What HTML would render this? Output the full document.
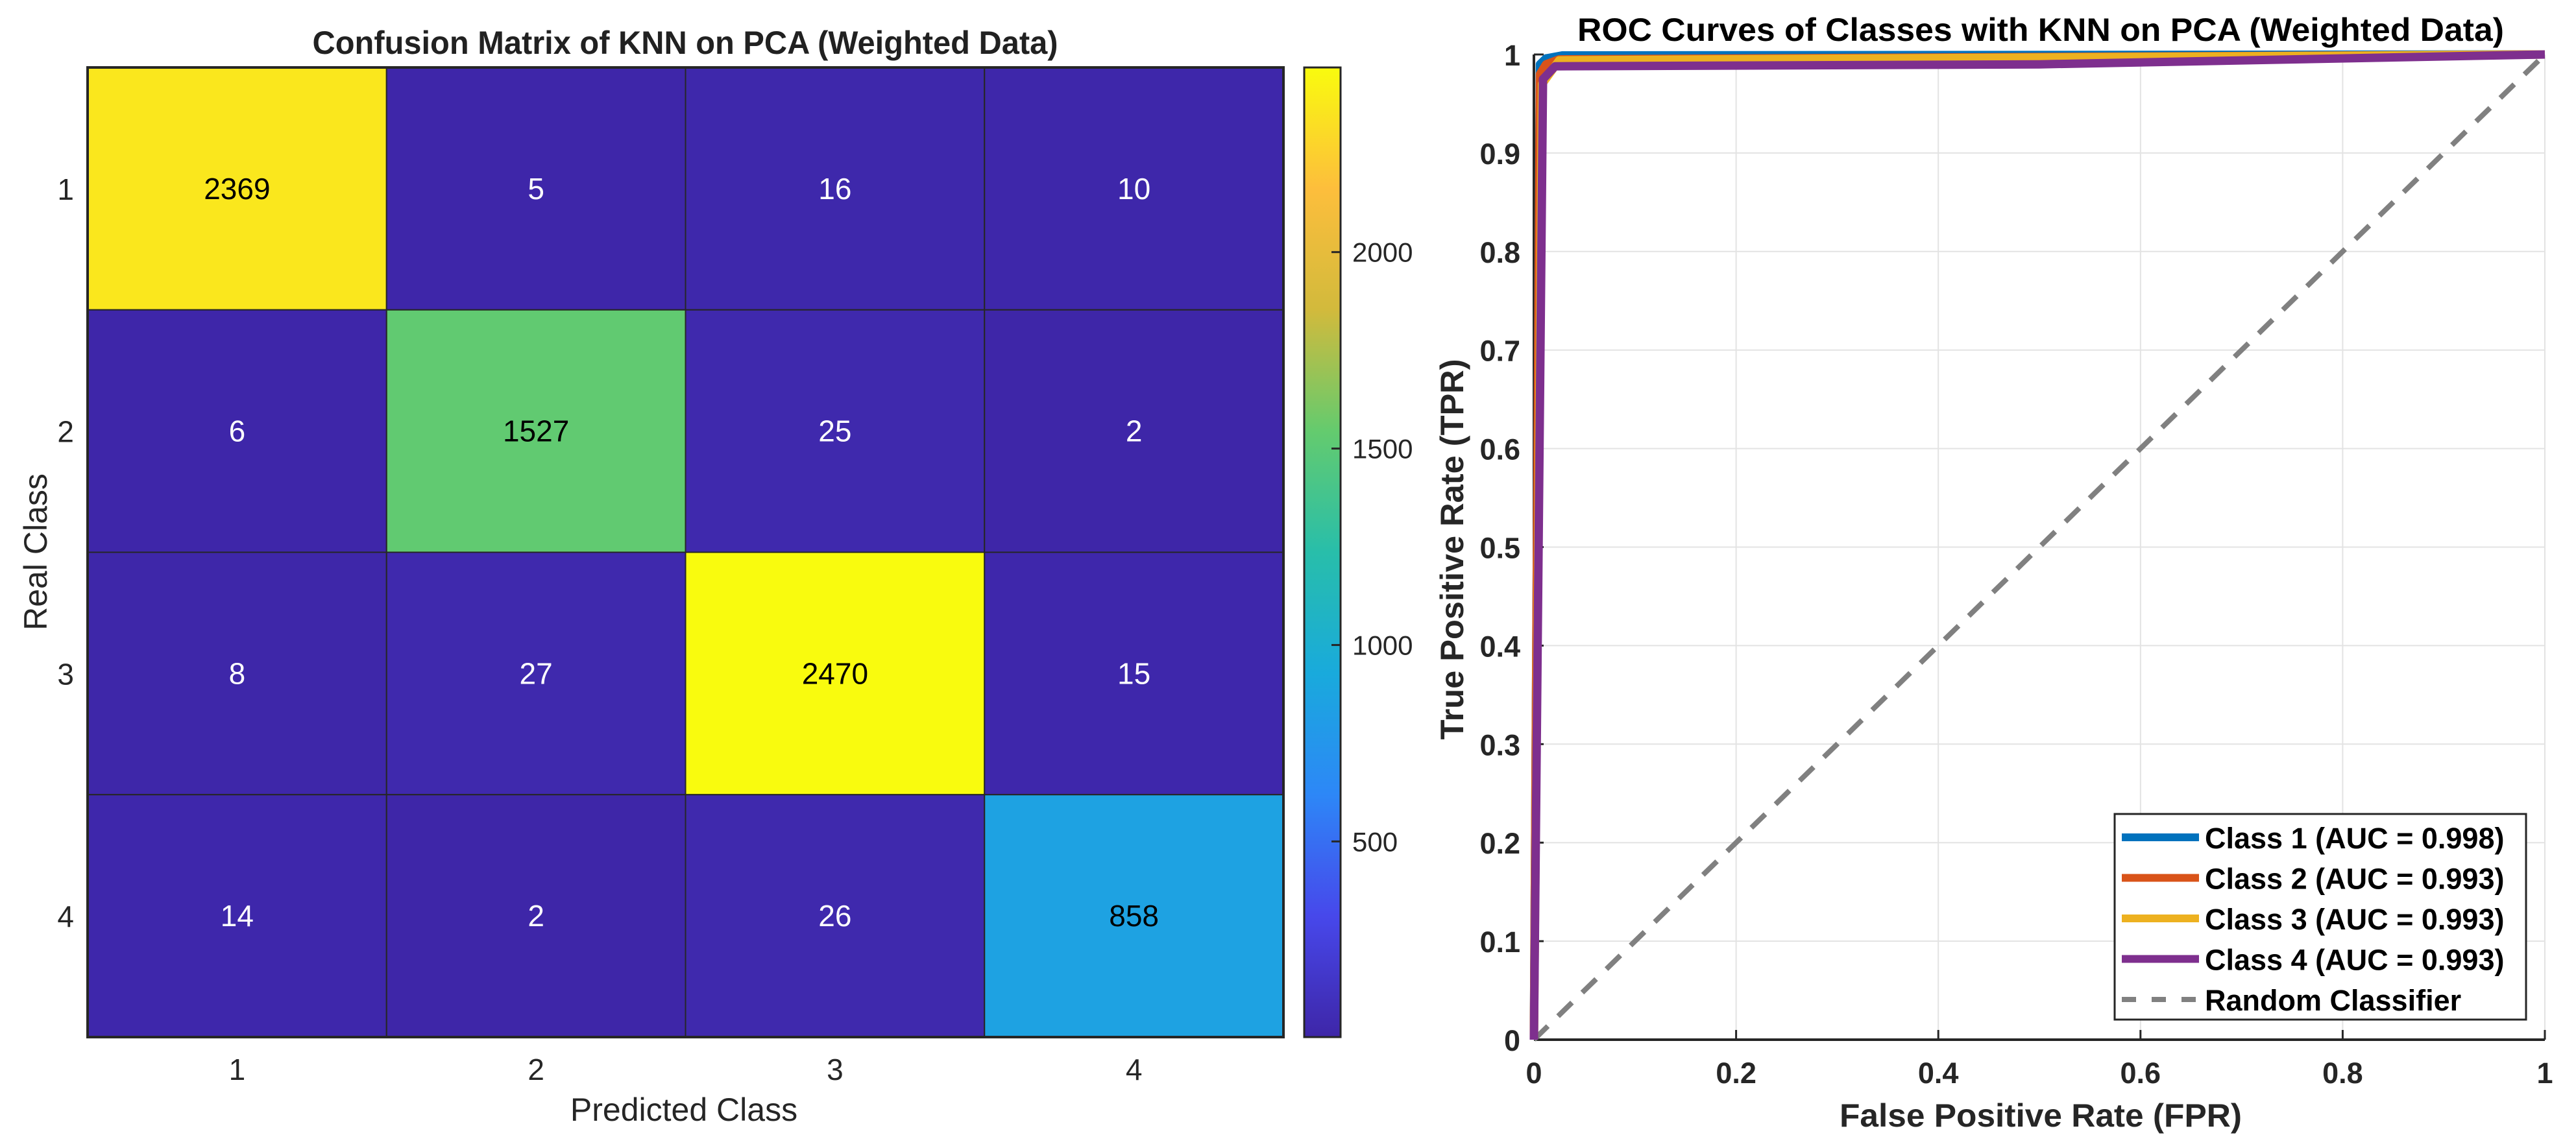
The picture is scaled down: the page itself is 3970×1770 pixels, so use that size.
<!DOCTYPE html>
<html><head><meta charset="utf-8">
<style>
html,body{margin:0;padding:0;background:#fff;}
svg{display:block;font-family:"Liberation Sans",Arial,sans-serif;}
</style></head>
<body>
<svg id="fig" width="3970" height="1770" viewBox="0 0 3970 1770" xmlns="http://www.w3.org/2000/svg">
<defs>
<linearGradient id="parulaGrad" x1="0" y1="1" x2="0" y2="0"></linearGradient>
</defs>
<g id="cm">
<text x="1056" y="83" text-anchor="middle" font-size="50" font-weight="bold" fill="#212121" textLength="1149" lengthAdjust="spacingAndGlyphs">Confusion Matrix of KNN on PCA (Weighted Data)</text>
<text x="1054" y="1728" text-anchor="middle" font-size="50" fill="#262626">Predicted Class</text>
<text transform="translate(72,851) rotate(-90)" text-anchor="middle" font-size="50" fill="#262626">Real Class</text>
</g>
<g id="roc">
<text x="3145" y="63" text-anchor="middle" font-size="50" font-weight="bold" fill="#000" textLength="1428" lengthAdjust="spacingAndGlyphs">ROC Curves of Classes with KNN on PCA (Weighted Data)</text>
<text x="3145" y="1737" text-anchor="middle" font-size="50" font-weight="bold" fill="#262626" textLength="620" lengthAdjust="spacingAndGlyphs">False Positive Rate (FPR)</text>
<text transform="translate(2255,847) rotate(-90)" text-anchor="middle" font-size="50" font-weight="bold" fill="#262626" textLength="587" lengthAdjust="spacingAndGlyphs">True Positive Rate (TPR)</text>
</g>
</svg>
<script>
// ---------- Confusion matrix data ----------
const classLabels = ["1","2","3","4"];
const row1 = [2369, 5, 16, 10];
const row2 = [6, 1527, 25, 2];
const row3 = [8, 27, 2470, 15];
const row4 = [14, 2, 26, 858];
const colorbarTicks = [500, 1000, 1500, 2000];
const cMin = 2, cMax = 2470;

// ---------- ROC data ----------
const rocXTicks = [0, 0.2, 0.4, 0.6, 0.8, 1];
const rocYTicks = [0, 0.1, 0.2, 0.3, 0.4, 0.5, 0.6, 0.7, 0.8, 0.9, 1];
const class1Fpr = [0, 0.006, 0.012, 0.028, 1];
const class1Tpr = [0, 0.99, 0.996, 0.999, 1];
const class2Fpr = [0, 0.006, 0.012, 0.025, 1];
const class2Tpr = [0, 0.98, 0.99, 0.995, 1];
const class3Fpr = [0, 0.008, 0.015, 0.025, 1];
const class3Tpr = [0, 0.97, 0.98, 0.994, 1];
const class4Fpr = [0, 0.009, 0.021, 0.5, 1];
const class4Tpr = [0, 0.975, 0.988, 0.99, 1];
const legendLabels = ["Class 1 (AUC = 0.998)","Class 2 (AUC = 0.993)","Class 3 (AUC = 0.993)","Class 4 (AUC = 0.993)","Random Classifier"];

const NS = "http://www.w3.org/2000/svg";
function mk(tag, attrs, parent){
  const e = document.createElementNS(NS, tag);
  for (const k in attrs) e.setAttribute(k, attrs[k]);
  parent.appendChild(e);
  return e;
}
// parula colormap
const par = [[62,38,168],[71,72,235],[45,135,247],[25,170,220],[40,190,170],[100,203,110],[210,186,60],[253,190,60],[249,251,14]];
function parula(t){
  t = Math.max(0, Math.min(1, t));
  const p = t*(par.length-1), i = Math.min(par.length-2, Math.floor(p)), f = p-i;
  const c = par[i].map((v,j)=>Math.round(v+(par[i+1][j]-v)*f));
  return "rgb("+c.join(",")+")";
}
const grad = document.getElementById("parulaGrad");
par.forEach((c,i)=>{ mk("stop",{offset:(i/(par.length-1)),"stop-color":"rgb("+c.join(",")+")"},grad); });

// ---------- Confusion matrix ----------
const cm = document.getElementById("cm");
const hmL = 135, hmR = 1978, hmT = 104, hmB = 1599;
const rows = [row1,row2,row3,row4];
const cw = (hmR-hmL)/classLabels.length, ch = (hmB-hmT)/rows.length;
const xCell = i => hmL + i*cw;
const yCell = j => hmT + j*ch;
rows.forEach((r,j)=>{
  r.forEach((v,i)=>{
    const t = (v-cMin)/(cMax-cMin);
    const rect = mk("rect",{x:xCell(i),y:yCell(j),width:cw,height:ch,fill:parula(t),stroke:"#262626","stroke-width":2},cm);
    
    
    const tx = mk("text",{x:xCell(i)+cw/2,y:yCell(j)+ch/2+16,"text-anchor":"middle","font-size":46,fill:(t>0.3?"#000":"#fff")},cm);
    tx.textContent = v;
    
    
  });
});
const border = mk("rect",{x:hmL,y:hmT,width:hmR-hmL,height:hmB-hmT,fill:"none",stroke:"#262626","stroke-width":4},cm);


classLabels.forEach((lab,i)=>{
  const xt = mk("text",{x:xCell(i)+cw/2,y:1665,"text-anchor":"middle","font-size":46,fill:"#262626"},cm);
  xt.textContent = lab;
  
  
  const yt = mk("text",{x:114,y:yCell(i)+ch/2+17,"text-anchor":"end","font-size":46,fill:"#262626"},cm);
  yt.textContent = lab;
  
  
});
// colorbar
const cbL = 2010, cbR = 2066;
const cbY = v => hmB - (v-cMin)/(cMax-cMin)*(hmB-hmT);
const cb = mk("rect",{x:cbL,y:hmT,width:cbR-cbL,height:hmB-hmT,fill:"url(#parulaGrad)",stroke:"#262626","stroke-width":3},cm);


colorbarTicks.forEach(v=>{
  const tk = mk("line",{x1:cbR-14,x2:cbR,y1:cbY(v),y2:cbY(v),stroke:"#262626","stroke-width":3},cm);
  
  
  const tl = mk("text",{x:2084,y:cbY(v)+15,"font-size":42,fill:"#262626"},cm);
  tl.textContent = v;
  
  
});

// ---------- ROC ----------
const roc = document.getElementById("roc");
const aL = 2364, aR = 3922, aT = 84, aB = 1603;
const sx = v => aL + v*(aR-aL);
const sy = v => aB - v*(aB-aT);
rocXTicks.forEach(v=>{
  if (v>0){
    const g = mk("line",{x1:sx(v),x2:sx(v),y1:aT,y2:aB,stroke:"#e3e3e3","stroke-width":2},roc);
    
    
  }
  const tk = mk("line",{x1:sx(v),x2:sx(v),y1:aB,y2:aB-15,stroke:"#262626","stroke-width":3},roc);
  
  
  const tl = mk("text",{x:sx(v),y:1670,"text-anchor":"middle","font-size":45,"font-weight":"bold",fill:"#262626"},roc);
  tl.textContent = v;
  
  
});
rocYTicks.forEach(v=>{
  if (v>0){
    const g = mk("line",{x1:aL,x2:aR,y1:sy(v),y2:sy(v),stroke:"#e3e3e3","stroke-width":2},roc);
    
    
  }
  const tk = mk("line",{x1:aL,x2:aL+15,y1:sy(v),y2:sy(v),stroke:"#262626","stroke-width":3},roc);
  
  
  const tl = mk("text",{x:2343,y:sy(v)+17,"text-anchor":"end","font-size":45,"font-weight":"bold",fill:"#262626"},roc);
  tl.textContent = v;
  
  
});
const axX = mk("line",{x1:aL,x2:aR,y1:aB,y2:aB,stroke:"#262626","stroke-width":4},roc);


const axY = mk("line",{x1:aL,x2:aL,y1:aT,y2:aB,stroke:"#262626","stroke-width":4},roc);


// diagonal
const diag = mk("line",{x1:sx(0),y1:sy(0),x2:sx(1),y2:sy(1),stroke:"#808080","stroke-width":8,"stroke-dasharray":"30 22"},roc);


const series = [[class1Fpr,class1Tpr,"#0072bd"],[class2Fpr,class2Tpr,"#d95319"],[class3Fpr,class3Tpr,"#edb120"],[class4Fpr,class4Tpr,"#7e2f8e"]];
series.forEach((s,k)=>{
  const d = s[0].map((x,i)=>(i?"L":"M")+sx(x).toFixed(1)+","+sy(s[1][i]).toFixed(1)).join(" ");
  const p = mk("path",{d:d,fill:"none",stroke:s[2],"stroke-width":13,"stroke-linejoin":"round"},roc);
  
  
});
// legend
const lg = mk("g",{},roc);


const lgBox = mk("rect",{x:3259,y:1255,width:634,height:317,fill:"#fff",stroke:"#262626","stroke-width":3},lg);


const lgColors = ["#0072bd","#d95319","#edb120","#7e2f8e","#808080"];
legendLabels.forEach((lab,i)=>{
  const cy = 1291 + i*62.5;
  const ln = mk("line",{x1:3270,x2:3389,y1:cy,y2:cy,stroke:lgColors[i],"stroke-width":(i<4?12:8)},lg);
  if (i===4) ln.setAttribute("stroke-dasharray","22 24");
  
  
  const t = mk("text",{x:3398,y:cy+17,"font-size":45,"font-weight":"bold",fill:"#000"},lg);
  t.textContent = lab;
  
  
});
</script>
</body></html>
